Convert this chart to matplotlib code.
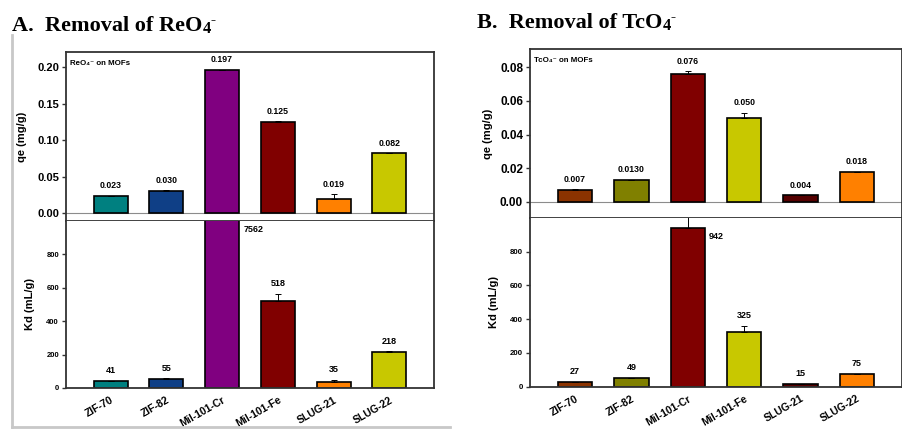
import matplotlib
matplotlib.use("Agg")
import matplotlib.pyplot as plt
from matplotlib.lines import Line2D
import numpy as np

plt.rcParams['font.family'] = ['Liberation Sans', 'DejaVu Sans']
plt.rcParams['font.weight'] = 'bold'
plt.rcParams['axes.labelweight'] = 'bold'

mofs = ["ZIF-70", "ZIF-82", "Mil-101-Cr", "Mil-101-Fe", "SLUG-21", "SLUG-22"]

# perrhenate uptake
reo4_qe = [0.023, 0.030, 0.197, 0.125, 0.019, 0.082]
reo4_qe_err = [0.001, 0.001, 0.0, 0.001, 0.007, 0.0]
reo4_qe_text = ["0.023", "0.030", "0.197", "0.125", "0.019", "0.082"]
reo4_kd = [41, 55, 7562, 518, 35, 218]
reo4_kd_err = [2, 4, 0, 45, 13, 3]
reo4_colors = ["#008080", "#0f3f86", "#800080", "#800000", "#ff8000", "#c8c800"]

# pertechnetate uptake
tco4_qe = [0.007, 0.0130, 0.076, 0.050, 0.004, 0.018]
tco4_qe_err = [0.0005, 0.0, 0.0016, 0.003, 0.0, 0.0]
tco4_qe_text = ["0.007", "0.0130", "0.076", "0.050", "0.004", "0.018"]
tco4_kd = [27, 49, 942, 325, 15, 75]
tco4_kd_err = [2, 3, 80, 36, 1, 3]
tco4_colors = ["#8b3300", "#808000", "#800000", "#c8c800", "#550000", "#ff8000"]

W, H = 903, 429
fig = plt.figure(figsize=(W / 100, H / 100), dpi=100)

SPINE = "#333333"
BAR_W = 0.61


def px_rect(left, top, right, bottom):
    return [left / W, 1 - bottom / H, (right - left) / W, (bottom - top) / H]


def style_axis(ax, tick_fs):
    for s in ax.spines.values():
        s.set_color(SPINE)
        s.set_linewidth(1.3)
    ax.tick_params(axis='y', direction='out', length=3, width=1, color=SPINE,
                   labelsize=tick_fs, pad=2)
    ax.set_xlim(-0.8, 5.8)


def panel(rect_top, rect_bot, qe, qe_err, qe_text, kd, kd_err, colors,
          qe_lim, qe_ticks, qe_fs, kd_fs, ion, ylab_x):
    x = np.arange(len(mofs))

    ax1 = fig.add_axes(rect_top)
    style_axis(ax1, qe_fs)
    ax1.axhline(0, color="#8c8c8c", lw=0.8, zorder=1)
    ax1.bar(x, qe, BAR_W, color=colors, edgecolor="black", linewidth=1.2, zorder=2)
    ax1.errorbar(x, qe, yerr=[np.zeros(len(qe)), qe_err], fmt='none',
                 ecolor="black", elinewidth=0.7, capsize=2, capthick=0.7, zorder=3)
    for xi, v, e, t in zip(x, qe, qe_err, qe_text):
        ax1.annotate(t, (xi, v + e), xytext=(0, 4), textcoords='offset points',
                     ha='center', va='bottom', fontsize=6.3)
    ax1.set_ylim(*qe_lim)
    ax1.set_yticks(qe_ticks)
    ax1.yaxis.set_major_formatter(matplotlib.ticker.FormatStrFormatter('%.2f'))
    ax1.set_xticks([])
    ax1.set_ylabel("qe (mg/g)", fontsize=8)
    ax1.yaxis.set_label_coords(ylab_x[0], 0.5)
    ax1.text(0.012, 0.955, ion + " on MOFs", transform=ax1.transAxes,
             ha='left', va='top', fontsize=5.7)

    ax2 = fig.add_axes(rect_bot)
    style_axis(ax2, kd_fs)
    ax2.spines['top'].set_visible(False)
    top = 1000
    ax2.bar(x, kd, BAR_W, color=colors, edgecolor="black", linewidth=1.2, zorder=2)
    ax2.errorbar(x, kd, yerr=[np.zeros(len(kd)), kd_err], fmt='none',
                 ecolor="black", elinewidth=0.7, capsize=2, capthick=0.7, zorder=3)
    for xi, v, e in zip(x, kd, kd_err):
        if v > 0.9 * top:
            ax2.annotate(str(v), (xi + BAR_W / 2, min(v, top)), xytext=(3, -6),
                         textcoords='offset points', ha='left', va='center',
                         fontsize=6.5)
        else:
            ax2.annotate(str(v), (xi, v + e), xytext=(0, 4),
                         textcoords='offset points', ha='center', va='bottom',
                         fontsize=6.5)
    ax2.set_ylim(0, top)
    ax2.set_yticks([0, 200, 400, 600, 800])
    ax2.set_xticks(x)
    ax2.set_xticklabels(mofs, rotation=30, ha='right', rotation_mode='anchor',
                        fontsize=7.5)
    ax2.tick_params(axis='x', length=0, pad=5)
    ax2.set_ylabel("Kd (mL/g)", fontsize=8)
    ax2.yaxis.set_label_coords(ylab_x[1], 0.5)
    return ax1, ax2


panel(px_rect(66, 52.5, 434, 221), px_rect(66, 221, 434, 388),
      reo4_qe, reo4_qe_err, reo4_qe_text, reo4_kd, reo4_kd_err, reo4_colors,
      (-0.011, 0.2205), [0, 0.05, 0.10, 0.15, 0.20], 8, 5.5,
      "ReO\u2084\u207b", (-0.106, -0.084))

panel(px_rect(530, 49, 902, 218), px_rect(530, 218, 902, 386.7),
      tco4_qe, tco4_qe_err, tco4_qe_text, tco4_kd, tco4_kd_err, tco4_colors,
      (-0.0095, 0.0907), [0, 0.02, 0.04, 0.06, 0.08], 8.5, 5.7,
      "TcO\u2084\u207b", (-0.099, -0.083))

# panel headings: main text, then a lowered "4" and a raised "-"
serif = 'Liberation Serif'
renderer = fig.canvas.get_renderer()


def heading(x_px, base_px, main):
    t = fig.text(x_px / W, 1 - base_px / H, main, family=serif,
                 fontsize=16, fontweight='bold', va='baseline')
    x_end = t.get_window_extent(renderer).x1
    s = fig.text(x_end / W, 1 - (base_px + 2) / H, "4", family=serif,
                 fontsize=12, fontweight='bold', va='baseline')
    x_end = s.get_window_extent(renderer).x1
    fig.text(x_end / W, 1 - (base_px - 7) / H, "-", family=serif,
             fontsize=11, fontweight='bold', va='baseline')


heading(12, 31, "A.  Removal of ReO")
heading(477, 28, "B.  Removal of TcO")

# light frame around panel A
fig.add_artist(Line2D([12 / W, 12 / W], [1 - 35 / H, 1 - 427 / H],
                      color="#c8c8c8", lw=2))
fig.add_artist(Line2D([12 / W, 450 / W], [1 - 427 / H, 1 - 427 / H],
                      color="#c8c8c8", lw=2))

fig.savefig("out.png", dpi=100, facecolor="white")
